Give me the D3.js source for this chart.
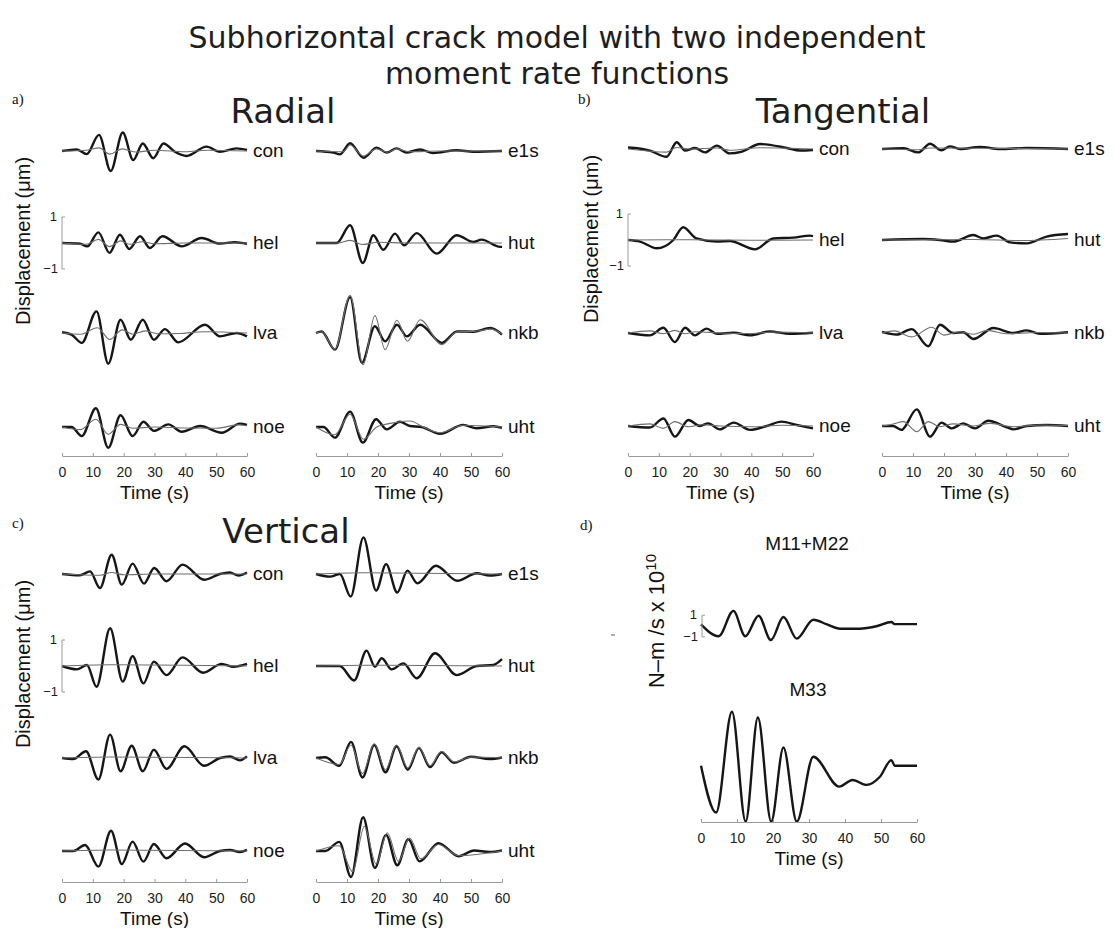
<!DOCTYPE html>
<html>
<head>
<meta charset="utf-8">
<script src="https://cdn.jsdelivr.net/npm/d3@7"></script>
<style>
  body { margin: 0; background: #fff; }
  svg { display: block; }
</style>
</head>
<body>
<script>
// Station names per column of each component panel
const stationsLeft = ["con", "hel", "lva", "noe"];
const stationsRight = ["e1s", "hut", "nkb", "uht"];
const timeTicks = [0, 10, 20, 30, 40, 50, 60];

// Traces as [time (s), displacement (µm)] turning points.
// Order inside each array: con, hel, lva, noe, e1s, hut, nkb, uht.
// *Obs = recorded (thick), *Syn = synthetic (thin)
const radialObs = [
  [[0,0],[4.8,0.06],[8,-0.12],[12,0.62],[15.8,-0.77],[19.7,0.71],[23.1,-0.35],[26.2,0.29],[29.6,-0.28],[32.9,0.29],[36.6,-0.03],[40.4,-0.19],[46.9,0.17],[51.2,-0.03],[56.6,0.1],[60,0.04]],
  [[0,0],[5.9,-0.03],[8.2,-0.13],[11.8,0.41],[15.4,-0.38],[18.8,0.32],[21.8,-0.23],[25.3,0.26],[28.5,-0.19],[32.6,0.26],[38.8,-0.13],[45.3,0.19],[51.2,-0.02],[56,0.03],[60,-0.03]],
  [[0,0.03],[3.1,-0.06],[6.4,-0.38],[11.2,0.83],[15,-1.18],[19,0.51],[22.3,-0.26],[26.2,0.51],[29.8,-0.26],[33.4,0.15],[37.7,-0.36],[46.4,0.32],[51.2,-0.13],[56.6,0],[60,-0.13]],
  [[0,0],[3.1,0],[6.4,-0.35],[11,0.72],[15,-0.8],[19,0.45],[22.9,-0.35],[26.4,0.2],[29.8,-0.15],[34.5,0.1],[38.8,-0.18],[44.8,0.04],[51.8,-0.22],[57.7,0.13],[60,0.08]],
  [[0,0],[5.6,-0.06],[7.7,-0.13],[11,0.3],[15.3,-0.26],[19.6,0.13],[22.8,-0.06],[26,0.1],[29.2,-0.06],[33.5,0.06],[37.8,-0.08],[45.4,0.03],[50.8,-0.03],[60,0]],
  [[0,0],[6.7,0],[11,0.68],[15.1,-0.77],[18.5,0.3],[21.7,-0.26],[25.5,0.36],[28.4,-0.09],[32.5,0.38],[38.9,-0.41],[45.4,0.3],[50.7,0.04],[53.4,0.13],[59.4,-0.15],[60,-0.15]],
  [[0,0],[1.8,0.06],[6.1,-0.64],[11,1.38],[14.8,-1.15],[19,0.26],[22.3,-0.32],[26.1,0.32],[29.3,-0.13],[33.6,0.32],[40.6,-0.38],[45.5,0.06],[50.8,0.05],[56.3,0.19],[60,-0.06]],
  [[0,0],[2.4,0],[6.1,-0.41],[11,0.59],[15.1,-0.6],[19.4,0.3],[22.8,-0.09],[27.1,0.2],[30.3,0.04],[34,0],[40,-0.26],[47.5,0.08],[51.8,-0.05],[57.2,0.03],[60,-0.03]]
];
const radialSyn = [
  [[0,0],[8,0.03],[12,0.12],[15.5,-0.12],[19.5,0.08],[24,-0.04],[30,0.03],[40,-0.03],[47,0.03],[60,0]],
  [[0,0],[8,-0.05],[11.8,0.14],[15.4,-0.14],[19,0.08],[22,-0.05],[26,0.05],[30,-0.03],[40,0],[60,0]],
  [[0,0],[6,-0.05],[11.5,0.2],[15.5,-0.25],[19.5,0.12],[23,-0.05],[27,0.08],[31,-0.03],[38,-0.02],[46,0.05],[60,0]],
  [[0,0],[6,-0.1],[11,0.3],[15,-0.28],[19,0.1],[23,-0.05],[30,0],[40,-0.04],[50,-0.05],[57,0.08],[60,0.05]],
  [[0,0],[8.8,-0.03],[11,0.23],[15.3,-0.19],[19.5,0.08],[23,-0.05],[26,0.08],[30,-0.03],[40,0],[60,0]],
  [[0,0],[7,0],[11,0.1],[15,-0.06],[20,0.03],[30,0],[60,0]],
  [[0,0],[1.8,0.05],[6.1,-0.62],[11,1.45],[15.2,-1.22],[19,0.67],[22.3,-0.64],[26.1,0.49],[29.5,-0.32],[33.6,0.51],[40.6,-0.45],[45.5,0.05],[51,0.06],[56.3,0.15],[60,-0.04]],
  [[0,0],[6,-0.3],[11,0.49],[15.3,-0.47],[19.6,0],[22.3,0.1],[25.5,0.17],[30.3,0.23],[34.6,0],[40,-0.22],[47.5,0.07],[60,0]]
];

const tangentialObs = [
  [[0,0.06],[7.1,-0.06],[12.5,-0.3],[15.8,0.26],[18.5,-0.06],[21.7,0.04],[25,-0.13],[28.8,0.13],[33,-0.17],[37,-0.1],[42.8,0.19],[51.5,0.04],[55.8,-0.06],[60,-0.04]],
  [[0,0],[3.9,-0.06],[9.3,-0.32],[14.7,0],[17.9,0.49],[22.2,0.06],[28.8,-0.06],[33,-0.04],[41.2,-0.36],[47.1,0.06],[53.6,0.09],[59,0.17],[60,0.15]],
  [[0,0],[7.1,-0.09],[11.5,0.2],[15.2,-0.35],[18.5,0.2],[21.7,-0.09],[25.5,0.17],[28.8,-0.03],[34.2,0.01],[39.6,-0.09],[46,0.06],[52.5,-0.03],[60,0.01]],
  [[0,0],[7.1,-0.06],[11.5,0.29],[15.2,-0.41],[19.6,0.23],[23.3,0],[26,0.1],[29.8,-0.13],[34.3,0.13],[39.6,-0.15],[45,0],[49.8,0.17],[54.7,0.04],[60,-0.09]],
  [[0,0],[6.9,0.03],[11.7,-0.13],[15.5,0.2],[19.2,-0.05],[21.9,0.1],[25.2,0],[31.6,0.08],[38,0],[46.7,0.04],[60,0]],
  [[0,0],[13.4,0.04],[18.7,0],[23,-0.06],[29.5,0.19],[32.7,0.06],[37,0.17],[41.3,-0.09],[46.7,-0.13],[53.1,0.13],[60,0.23]],
  [[0,0.04],[4.7,-0.06],[9.6,0.15],[14.9,-0.51],[18.7,0.32],[23,0],[26.2,0.03],[29.5,-0.23],[35.9,0.19],[42.4,0],[46.7,0.1],[51,-0.03],[60,0.03]],
  [[0,0],[3.6,0],[6.3,-0.15],[11.2,0.64],[15.5,-0.41],[19.2,0.13],[22.5,-0.09],[26.2,0.1],[30,-0.09],[34.3,0.2],[40.3,-0.05],[42.4,-0.13],[46.7,0],[53.1,0.04],[60,0]]
];
const tangentialSyn = [
  [[0,0],[12.5,-0.12],[15.8,0.06],[20,0],[28.8,0.04],[33,-0.05],[42.8,0.05],[60,0]],
  [[0,0],[20,0.01],[40,-0.01],[60,0]],
  [[0,0],[7,0.08],[11.5,-0.03],[15.2,0.1],[18.5,-0.03],[22,0.05],[30,0],[40,-0.02],[47,0.04],[60,0]],
  [[0,0],[7.1,0.08],[11.5,-0.09],[15.2,0.17],[19.6,-0.03],[24,0.05],[30,0],[40,-0.03],[50,0.03],[60,0]],
  [[0,0],[11.7,-0.03],[15.5,0.04],[60,0]],
  [[0,0],[30,0.02],[45,-0.02],[60,0.06]],
  [[0,0],[4,0.08],[9.6,-0.15],[16,0.22],[20,-0.08],[25,0.05],[29.5,-0.05],[34,0.1],[40,-0.03],[50,0.02],[60,0]],
  [[0,0],[3.6,0.08],[6.9,0.17],[11.2,-0.22],[15,0.17],[18.7,-0.03],[23,0.08],[29,0],[35,0.1],[42.4,-0.03],[51,0.04],[60,0.02]]
];

const verticalObs = [
  [[0,0],[5.8,-0.05],[9.1,0.1],[12.3,-0.54],[16.1,0.74],[19.4,-0.41],[22.9,0.4],[26.6,-0.37],[29.9,0.23],[33.9,-0.28],[39.1,0.36],[46.1,-0.22],[51.2,0],[54.4,0.06],[57.2,-0.06],[60,0.06]],
  [[0,0],[4.8,-0.13],[8.1,0.04],[11.2,-0.8],[15.6,1.45],[19.7,-0.6],[22.9,0.38],[26.4,-0.67],[29.8,0.17],[33.9,-0.35],[39.1,0.33],[45.8,-0.26],[51.8,0.08],[55.6,-0.03],[60,0.08]],
  [[0,0],[3.7,-0.04],[7.8,0.26],[11.8,-0.83],[15.6,0.9],[19,-0.51],[22.6,0.47],[26.2,-0.51],[29.8,0.32],[33.9,-0.42],[39.7,0.45],[46.1,-0.3],[51.2,0],[54.5,0.06],[57.7,-0.09],[60,0.06]],
  [[0,0],[3.7,0],[7.5,0.23],[11.8,-0.6],[15.9,0.78],[19.4,-0.5],[22.9,0.36],[26.4,-0.41],[29.8,0.27],[33.9,-0.28],[39.9,0.29],[46.1,-0.24],[51.2,0],[54.5,0.04],[57.7,-0.04],[60,0.04]],
  [[0,0],[4.5,-0.1],[7.7,0],[11.2,-0.87],[15.3,1.41],[19.4,-0.64],[22.6,0.38],[26.2,-0.71],[29.5,0.13],[32.7,-0.36],[38.7,0.32],[45.6,-0.26],[51.8,0.03],[56,-0.06],[60,0]],
  [[0,0],[7.7,0],[12.3,-0.56],[16.3,0.59],[19,-0.03],[21.2,0.3],[24.4,-0.13],[28.2,0.1],[32.5,-0.47],[38.4,0.49],[45.4,-0.35],[51.8,0],[57.2,0.04],[60,0.26]],
  [[0,0],[3,0.03],[7.5,-0.3],[11.3,0.62],[15,-0.75],[18.8,0.5],[22.4,-0.55],[26,0.45],[29.6,-0.45],[33.2,0.38],[36.8,-0.35],[40.5,0.22],[44.5,-0.18],[50,0.05],[56,-0.04],[60,0.02]],
  [[0,0],[3,0],[7.5,0.35],[11.3,-1.0],[15.2,1.3],[19,-0.65],[22.6,0.62],[26.2,-0.55],[29.8,0.45],[33.4,-0.4],[39.5,0.3],[46,-0.2],[51,0.02],[56,-0.04],[60,0.02]]
];
const verticalSyn = [
  [[0,0],[12.3,-0.05],[16.1,0.06],[20,-0.03],[30,0],[60,0]],
  [[0,0],[15.6,0.05],[60,0]],
  [[0,0],[15.6,0.04],[60,0]],
  [[0,0],[15.9,0.04],[60,0]],
  [[0,0],[15.3,0.05],[60,0]],
  [[0,0],[16,0.03],[60,0]],
  [[0,0],[7.5,-0.25],[11.3,0.5],[15,-0.6],[18.8,0.55],[22.4,-0.45],[26,0.5],[29.6,-0.38],[33.2,0.42],[36.8,-0.3],[40.5,0.25],[44.5,-0.15],[50,0.04],[60,0]],
  [[0,0],[7.5,0.2],[11.8,-0.8],[15.6,0.95],[19.4,-0.5],[23,0.7],[26.6,-0.4],[30.2,0.5],[33.8,-0.3],[39.5,0.25],[46,-0.18],[60,0]]
];

// Moment rate functions, [time (s), N-m/s x 10^10]
const mrfM11M22 = [[0,0.15],[4.9,-0.95],[9,1.4],[12.3,-0.95],[16,0.95],[19.4,-1.3],[22.9,0.83],[26.6,-1.17],[31.2,0.58],[35,0.15],[38.6,-0.25],[44,-0.25],[49,0],[52.9,0.37],[53.8,0.17],[60,0.17]];
const mrfM33 = [[0,0],[4.2,-4.34],[8.6,5.0],[12.4,-5.17],[15.8,4.46],[19.5,-5.17],[22.9,1.68],[26.6,-5.17],[31.2,0.83],[38.4,-1.94],[42.1,-1.32],[46,-1.78],[49.7,-1.02],[52.9,0.52],[53.8,0],[60,0]];

const W = 1114, H = 928;
const svg = d3.select("body").append("svg").attr("width", W).attr("height", H)
  .style("font-family", "'Liberation Sans', Arial, sans-serif");

const thickColor = "#161616", thinColor = "#6e6e6e", axisColor = "#9a9a9a";
const titleFont = "'DejaVu Sans', sans-serif";

// Main title
svg.append("text").attr("x", 557).attr("y", 48).attr("text-anchor", "middle")
  .style("font-family", titleFont).style("font-size", "30px").attr("fill", "#1e1e1e")
  .text("Subhorizontal crack model with two independent");
svg.append("text").attr("x", 557).attr("y", 84).attr("text-anchor", "middle")
  .style("font-family", titleFont).style("font-size", "30px").attr("fill", "#1e1e1e")
  .text("moment rate functions");

const panels = [
  { title: "Radial", letter: "a)", obs: radialObs, syn: radialSyn,
    cols: [[62, 247], [316, 502]], rows: [151, 243, 333, 427], axisY: 456,
    titleX: 283, titleY: 123, letterX: 12, letterY: 104, ylabX: 23, ylabY: 241 },
  { title: "Tangential", letter: "b)", obs: tangentialObs, syn: tangentialSyn,
    cols: [[628, 813], [882, 1068]], rows: [149, 240, 333, 426], axisY: 456,
    titleX: 843, titleY: 123, letterX: 578, letterY: 104, ylabX: 591, ylabY: 239 },
  { title: "Vertical", letter: "c)", obs: verticalObs, syn: verticalSyn,
    cols: [[62, 247], [316, 502]], rows: [574, 666, 758, 851], axisY: 882,
    titleX: 286, titleY: 543, letterX: 12, letterY: 528, ylabX: 23, ylabY: 664 }
];

const unitPx = 26; // pixels per µm in each trace row

function drawTimeAxis(g, x, axisY) {
  const ax = g.append("g").attr("transform", `translate(0,${axisY})`)
    .call(d3.axisBottom(x).tickValues(timeTicks).tickSize(-3).tickSizeOuter(0).tickPadding(11));
  ax.select(".domain").attr("stroke", axisColor);
  ax.selectAll(".tick line").attr("stroke", axisColor);
  ax.selectAll(".tick text").attr("fill", "#1c1c1c")
    .style("font-family", "'Liberation Sans', Arial, sans-serif").style("font-size", "14px");
  const [r0, r1] = x.range();
  g.append("text").attr("x", (r0 + r1) / 2).attr("y", axisY + 43)
    .attr("text-anchor", "middle").style("font-size", "19px").attr("fill", "#111")
    .text("Time (s)");
}

function drawScaleBar(g, x0, yScale, fontSize) {
  g.append("line").attr("x1", x0).attr("x2", x0)
    .attr("y1", yScale(1)).attr("y2", yScale(-1)).attr("stroke", axisColor).attr("stroke-width", 1);
  [1, -1].forEach(v => {
    g.append("line").attr("x1", x0).attr("x2", x0 + 3).attr("y1", yScale(v)).attr("y2", yScale(v))
      .attr("stroke", axisColor).attr("stroke-width", 1);
  });
  g.append("text").attr("x", x0 - 5).attr("y", yScale(1) + 4).attr("text-anchor", "end")
    .style("font-size", fontSize + "px").attr("fill", "#1c1c1c").text("1");
  g.append("text").attr("x", x0 - 4).attr("y", yScale(-1) + 4).attr("text-anchor", "end")
    .style("font-size", fontSize + "px").attr("fill", "#1c1c1c").text("\u22121");
}

panels.forEach(p => {
  const g = svg.append("g");
  g.append("text").attr("x", p.titleX).attr("y", p.titleY).attr("text-anchor", "middle")
    .style("font-family", titleFont).style("font-size", "34px").attr("fill", "#1e1e1e").text(p.title);
  g.append("text").attr("x", p.letterX).attr("y", p.letterY)
    .style("font-family", "'Liberation Serif', 'Times New Roman', serif").style("font-size", "15px")
    .attr("fill", "#111").text(p.letter);
  g.append("text")
    .attr("transform", `translate(${p.ylabX},${p.ylabY}) rotate(-90)`)
    .attr("text-anchor", "middle").attr("dy", "0.35em").style("font-size", "20px").attr("fill", "#111")
    .text("Displacement (\u03bcm)");

  p.cols.forEach((range, ci) => {
    const x = d3.scaleLinear().domain([0, 60]).range(range);
    const names = ci === 0 ? stationsLeft : stationsRight;
    names.forEach((name, ri) => {
      const base = p.rows[ri];
      const y = d3.scaleLinear().domain([-1, 1]).range([base + unitPx, base - unitPx]);
      const line = d3.line().x(d => x(d[0])).y(d => y(d[1])).curve(d3.curveMonotoneX);
      const idx = ci * 4 + ri;
      g.append("path").attr("d", line(p.obs[idx])).attr("fill", "none")
        .attr("stroke", thickColor).attr("stroke-width", 2.4).attr("stroke-linejoin", "round");
      g.append("path").attr("d", line(p.syn[idx])).attr("fill", "none")
        .attr("stroke", thinColor).attr("stroke-width", 1.1);
      g.append("text").attr("x", range[1] + 6).attr("y", base + 6)
        .style("font-size", "19px").attr("fill", "#111").text(name);
      if (ci === 0 && ri === 1) drawScaleBar(g, range[0], y, 13);
    });
    drawTimeAxis(g, x, p.axisY);
  });
});

// Panel d: moment rate functions
(function () {
  const g = svg.append("g");
  const x = d3.scaleLinear().domain([0, 60]).range([701, 917]);
  const unit = 10.8;
  const y1 = d3.scaleLinear().domain([-1, 1]).range([626 + unit, 626 - unit]);
  const y2 = d3.scaleLinear().domain([-1, 1]).range([765.7 + unit, 765.7 - unit]);
  g.append("text").attr("x", 580).attr("y", 530)
    .style("font-family", "'Liberation Serif', 'Times New Roman', serif").style("font-size", "15px")
    .attr("fill", "#111").text("d)");
  g.append("text").attr("x", 807).attr("y", 550).attr("text-anchor", "middle")
    .style("font-size", "19px").attr("fill", "#111").text("M11+M22");
  g.append("text").attr("x", 808).attr("y", 696).attr("text-anchor", "middle")
    .style("font-size", "19px").attr("fill", "#111").text("M33");
  const yl = g.append("text")
    .attr("transform", "translate(664,621) rotate(-90)")
    .attr("text-anchor", "middle").style("font-size", "22px").attr("fill", "#111");
  yl.append("tspan").text("N\u2013m /s x 10");
  yl.append("tspan").attr("dy", "-0.55em").style("font-size", "15px").text("10");

  const l1 = d3.line().x(d => x(d[0])).y(d => y1(d[1])).curve(d3.curveMonotoneX);
  const l2 = d3.line().x(d => x(d[0])).y(d => y2(d[1])).curve(d3.curveMonotoneX);
  g.append("path").attr("d", l1(mrfM11M22)).attr("fill", "none")
    .attr("stroke", thickColor).attr("stroke-width", 2.4).attr("stroke-linejoin", "round");
  g.append("path").attr("d", l2(mrfM33)).attr("fill", "none")
    .attr("stroke", thickColor).attr("stroke-width", 2.4).attr("stroke-linejoin", "round");
  drawScaleBar(g, 702, y1, 13);
  // small stray tick left of the panel
  g.append("line").attr("x1", 611).attr("x2", 615).attr("y1", 635).attr("y2", 635)
    .attr("stroke", "#777").attr("stroke-width", 1.2);
  drawTimeAxis(g, x, 822);
})();
</script>
</body>
</html>
